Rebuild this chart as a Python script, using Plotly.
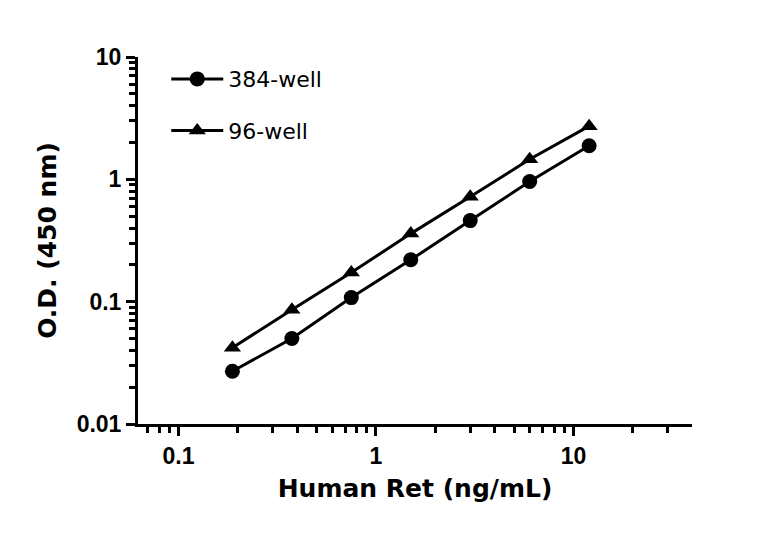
import plotly.graph_objects as go

# concentracoes (ng/mL)
conc = [0.1875, 0.375, 0.75, 1.5, 3, 6, 12]

# leituras O.D. 450 nm
od_384 = [0.027, 0.050, 0.108, 0.220, 0.46, 0.96, 1.88]
od_96 = [0.042, 0.086, 0.173, 0.36, 0.72, 1.46, 2.72]

fig = go.Figure()

fig.add_trace(go.Scatter(
    x=conc, y=od_384, name='384-well', mode='lines+markers',
    line=dict(color='black', width=3),
    marker=dict(symbol='circle', size=15, color='black'),
    legendgroup='a'
))
fig.add_trace(go.Scatter(
    x=conc, y=od_96, name='96-well', mode='lines+markers',
    line=dict(color='black', width=3),
    marker=dict(symbol='triangle-up', size=15, color='black'),
    legendgroup='b'
))

tick_font = dict(family='Liberation Sans Narrow, Arial Narrow, Liberation Sans, sans-serif',
                 size=23, color='black', weight='bold')
title_font = dict(family='DejaVu Sans, sans-serif', size=25, color='black', weight='bold')

# a pagina tem 8px de margem no body, por isso l e t menores
fig.update_layout(
    width=768, height=534,
    margin=dict(l=130, r=84, t=49, b=118),
    plot_bgcolor='white',
    paper_bgcolor='white',
    showlegend=True,
    legend=dict(
        x=0.051, y=0.997, xanchor='left', yanchor='top',
        font=dict(family='DejaVu Sans, sans-serif', size=22, color='black'),
        bgcolor='rgba(0,0,0,0)',
        tracegroupgap=20,
        itemwidth=52
    ),
    xaxis=dict(
        type='log',
        range=[-1.205, 1.6],
        automargin=False,
        title=dict(text='Human Ret (ng/mL)', font=title_font, standoff=12),
        tickvals=[0.1, 1, 10],
        ticktext=['0.1', '1', '10'],
        tickfont=tick_font,
        ticks='outside', ticklen=9, tickwidth=3, tickcolor='black',
        minor=dict(ticks='outside', ticklen=6, tickwidth=3, tickcolor='black',
                   tickvals=[0.07, 0.08, 0.09, 0.2, 0.3, 0.4, 0.5, 0.6, 0.7, 0.8, 0.9,
                             2, 3, 4, 5, 6, 7, 8, 9, 20, 30]),
        showline=True, linewidth=3, linecolor='black',
        showgrid=False, zeroline=False
    ),
    yaxis=dict(
        type='log',
        range=[-2, 1],
        automargin=False,
        title=dict(text='O.D. (450 nm)', font=title_font, standoff=13),
        tickvals=[0.01, 0.1, 1, 10],
        ticktext=['0.01', '0.1', '1', '10'],
        tickfont=tick_font,
        ticks='outside', ticklen=9, tickwidth=3, tickcolor='black',
        minor=dict(ticks='outside', ticklen=6, tickwidth=3, tickcolor='black',
                   tickvals=[m * d for d in (0.01, 0.1, 1) for m in range(2, 10)]),
        showline=True, linewidth=3, linecolor='black',
        showgrid=False, zeroline=False
    )
)

fig.write_html('out.html')
